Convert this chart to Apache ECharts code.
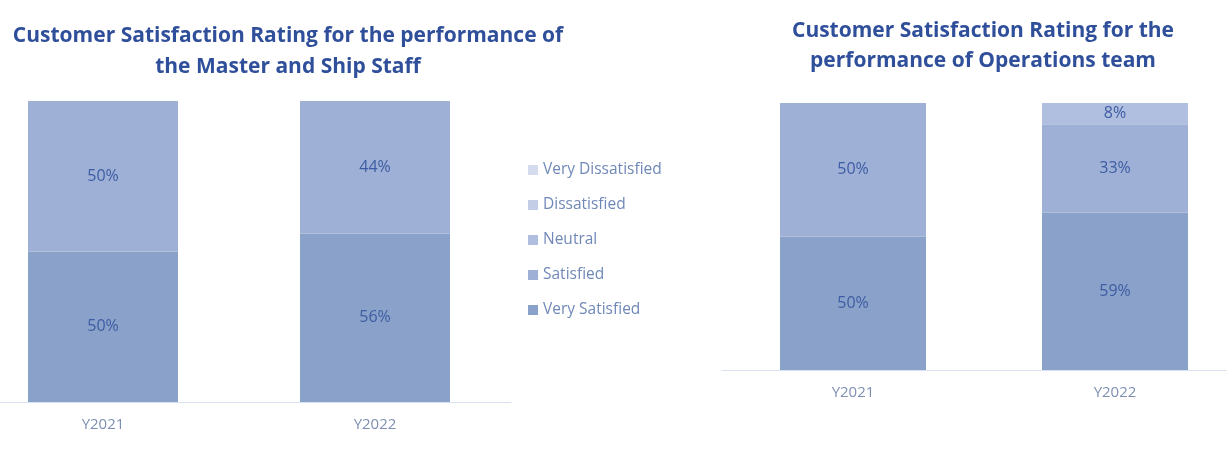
<!DOCTYPE html>
<html><head><meta charset="utf-8">
<script src="https://cdn.jsdelivr.net/npm/echarts@6/dist/echarts.min.js"></script>
<style>html,body{margin:0;padding:0;background:#fff}#c{width:1227px;height:454px}</style>
</head><body><div id="c"></div>
<script>
const categories = ['Y2021', 'Y2022'];
const seriesNames = ['Very Dissatisfied', 'Dissatisfied', 'Neutral', 'Satisfied', 'Very Satisfied'];
// Left chart: Master and Ship Staff (percent)
const shipVerySatisfied = [50, 56];
const shipSatisfied = [50, 44];
const shipNeutral = [0, 0];
const shipDissatisfied = [0, 0];
const shipVeryDissatisfied = [0, 0];
// Right chart: Operations team (percent)
const opsVerySatisfied = [50, 59];
const opsSatisfied = [50, 33];
const opsNeutral = [0, 8];
const opsDissatisfied = [0, 0];
const opsVeryDissatisfied = [0, 0];
const titleLeft = 'Customer Satisfaction Rating for the performance of\nthe Master and Ship Staff';
const titleRight = 'Customer Satisfaction Rating for the\nperformance of Operations team';

const colors = {
  'Very Satisfied': '#8aa1c9',
  'Satisfied': '#9eb0d6',
  'Neutral': '#b0bfdf',
  'Dissatisfied': '#c3cde6',
  'Very Dissatisfied': '#d5dcee'
};
const FONT = '"Open Sans", "Noto Sans", sans-serif';

function mk(name, data, idx) {
  return {
    name, type: 'bar', stack: 's' + idx, data,
    xAxisIndex: idx, yAxisIndex: idx,
    barWidth: idx === 0 ? 150 : 146,
    itemStyle: { color: colors[name] },
    label: {
      show: true, position: 'inside', color: '#3d5ca3', fontSize: 16, fontFamily: FONT,
      formatter: p => p.value > 0 ? p.value + '%' : ''
    },
    emphasis: { disabled: true }
  };
}
const leftData = [shipVerySatisfied, shipSatisfied, shipNeutral, shipDissatisfied, shipVeryDissatisfied];
const rightData = [opsVerySatisfied, opsSatisfied, opsNeutral, opsDissatisfied, opsVeryDissatisfied];
const order = ['Very Satisfied', 'Satisfied', 'Neutral', 'Dissatisfied', 'Very Dissatisfied'];
const series = [];
order.forEach((n, i) => series.push(mk(n, leftData[i], 0)));
order.forEach((n, i) => series.push(mk(n, rightData[i], 1)));

const xAx = (gi) => ({
  type: 'category', data: categories, gridIndex: gi,
  axisLine: { lineStyle: { color: '#d9e1f0', width: 1 } },
  axisTick: { show: false },
  axisLabel: { color: '#7f8fb3', fontSize: 15, fontFamily: FONT, margin: 15 }
});
const yAx = (gi) => ({ type: 'value', gridIndex: gi, min: 0, max: 100, show: false });

const chart = echarts.init(document.getElementById('c'));
chart.setOption({
  animation: false,
  title: [
    { text: titleLeft, left: 283, top: 16, textAlign: 'center',
      textStyle: { color: '#2f4f9b', fontSize: 21, fontWeight: 'bold', fontFamily: FONT, lineHeight: 31, align: 'center' } },
    { text: titleRight, left: 978, top: 11, textAlign: 'center',
      textStyle: { color: '#2f4f9b', fontSize: 21, fontWeight: 'bold', fontFamily: FONT, lineHeight: 30, align: 'center' } }
  ],
  legend: {
    data: seriesNames, orient: 'vertical', left: 523, top: 157, itemGap: 19,
    itemWidth: 10, itemHeight: 10, icon: 'rect',
    textStyle: { color: '#7088b8', fontSize: 15.5, fontFamily: FONT }
  },
  grid: [
    { left: -33, top: 101, width: 544, height: 301, outerBoundsMode: 'none' },
    { left: 722, top: 103, width: 524, height: 267, outerBoundsMode: 'none' }
  ],
  xAxis: [xAx(0), xAx(1)],
  yAxis: [yAx(0), yAx(1)],
  series
});
</script></body></html>
